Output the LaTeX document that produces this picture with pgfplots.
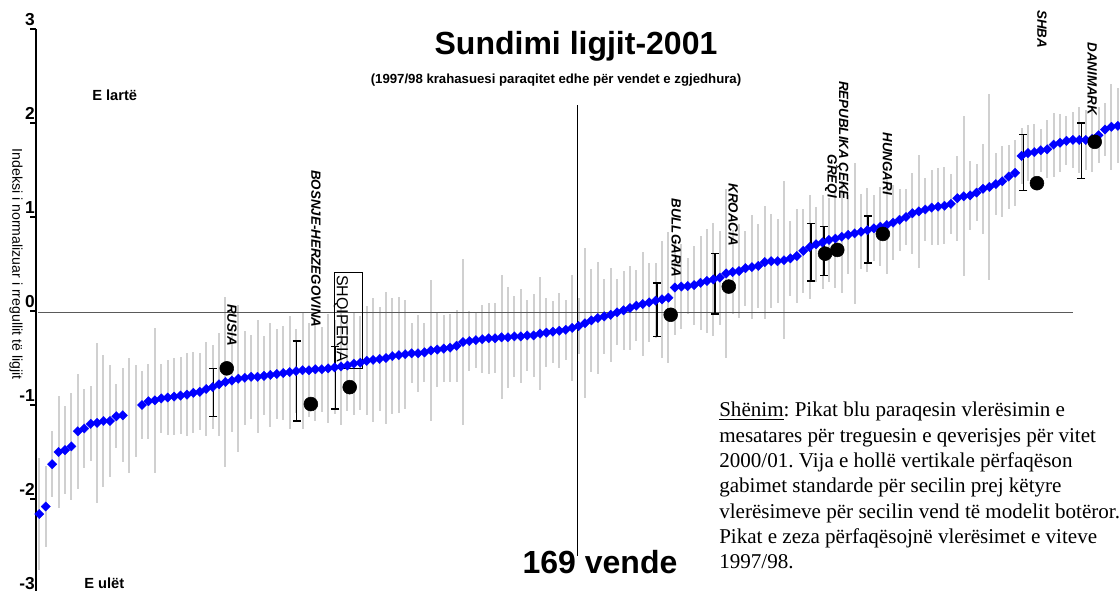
\documentclass[border=0pt]{standalone}
\usepackage{pgfplots}
\usepackage{pgfplotstable}
\pgfplotsset{compat=1.18}
\usepackage{fontspec}
\setmainfont{Liberation Sans}
\newfontfamily\serif{Liberation Serif}
\definecolor{gbar}{RGB}{208,208,208}
\definecolor{zline}{RGB}{90,90,90}
\definecolor{pblue}{RGB}{0,0,255}

\pgfplotstableread{
i c e b
1 -2.16 0.60 -2.16
2 -2.08 0.43 -2.08
3 -1.63 0.35 -1.63
4 -1.50 0.60 -1.50
5 -1.48 0.47 -1.48
6 -1.44 0.57 -1.44
7 -1.28 0.61 -1.28
8 -1.25 0.42 -1.25
9 -1.20 0.40 -1.20
10 -1.19 0.85 -1.19
11 -1.17 0.70 -1.17
12 -1.17 0.60 -1.17
13 -1.12 0.34 -1.12
14 -1.11 0.50 -1.11
15 -1.11 0.61 nan
16 -1.06 0.49 nan
17 -1.00 0.36 -1.00
18 -0.96 0.40 -0.96
19 -0.95 0.77 -0.95
20 -0.93 0.37 -0.93
21 -0.92 0.40 -0.92
22 -0.91 0.41 -0.91
23 -0.90 0.41 -0.90
24 -0.89 0.44 -0.89
25 -0.87 0.43 -0.87
26 -0.86 0.41 -0.86
27 -0.83 0.50 -0.83
28 -0.81 0.45 -0.81
29 -0.78 0.55 -0.78
30 -0.755 0.90 -0.755
31 -0.74 0.55 -0.74
32 -0.72 0.78 -0.72
33 -0.71 0.50 -0.71
34 -0.70 0.45 -0.70
35 -0.70 0.60 -0.70
36 -0.69 0.42 -0.69
37 -0.68 0.55 -0.68
38 -0.67 0.48 -0.67
39 -0.66 0.50 -0.66
40 -0.65 0.60 -0.65
41 -0.64 0.45 -0.64
42 -0.63 0.62 -0.63
43 -0.63 0.50 -0.63
44 -0.62 0.55 -0.62
45 -0.62 0.45 -0.62
46 -0.61 0.58 -0.61
47 -0.60 0.50 -0.60
48 -0.59 0.62 -0.59
49 -0.58 0.48 -0.58
50 -0.56 0.55 -0.56
51 -0.55 0.50 -0.55
52 -0.53 0.58 -0.53
53 -0.52 0.66 -0.52
54 -0.51 0.55 -0.51
55 -0.50 0.70 -0.50
56 -0.48 0.62 -0.48
57 -0.47 0.62 -0.47
58 -0.46 0.58 -0.46
59 -0.45 0.32 -0.45
60 -0.45 0.41 -0.45
61 -0.44 0.31 -0.44
62 -0.42 0.75 -0.42
63 -0.41 0.40 -0.41
64 -0.40 0.36 -0.40
65 -0.39 0.36 -0.39
66 -0.37 0.38 -0.37
67 -0.33 0.88 -0.33
68 -0.32 0.32 -0.32
69 -0.31 0.30 -0.31
70 -0.30 0.36 -0.30
71 -0.29 0.38 -0.29
72 -0.29 0.37 -0.29
73 -0.28 0.66 -0.28
74 -0.28 0.54 -0.28
75 -0.27 0.43 -0.27
76 -0.27 0.50 -0.27
77 -0.26 0.38 -0.26
78 -0.26 0.44 -0.26
79 -0.24 0.60 -0.24
80 -0.23 0.37 -0.23
81 -0.22 0.33 -0.22
82 -0.21 0.40 -0.21
83 -0.20 0.32 -0.20
84 -0.18 0.56 -0.18
85 -0.16 0.30 -0.16
86 -0.13 0.80 -0.13
87 -0.10 0.55 -0.10
88 -0.075 0.60 -0.075
89 -0.057 0.40 -0.057
90 -0.04 0.50 -0.04
91 -0.014 0.35 -0.014
92 0.007 0.42 0.007
93 0.032 0.45 0.032
94 0.057 0.38 0.057
95 0.074 0.55 0.074
96 0.092 0.42 0.092
97 0.11 0.40 0.11
98 0.124 0.62 0.124
99 0.142 0.70 0.142
100 0.25 0.50 0.25
101 0.26 0.45 0.26
102 0.265 0.30 0.265
103 0.276 0.42 0.276
104 0.30 0.50 0.30
105 0.32 0.55 0.32
106 0.336 0.60 0.336
107 0.355 0.50 0.355
108 0.40 0.90 0.40
109 0.415 0.45 0.415
110 0.425 0.50 0.425
111 0.456 0.40 0.456
112 0.467 0.55 0.467
113 0.48 0.45 0.48
114 0.52 0.60 0.52
115 0.53 0.50 0.53
116 0.53 0.45 0.53
117 0.54 0.84 0.54
118 0.56 0.40 0.56
119 0.585 0.50 0.585
120 0.64 0.45 0.64
121 0.68 0.55 0.68
122 0.71 0.40 0.71
123 0.73 0.50 0.73
124 0.756 0.45 0.756
125 0.77 0.52 0.77
126 0.79 0.60 0.79
127 0.81 0.42 0.81
128 0.826 0.75 0.826
129 0.843 0.40 0.843
130 0.86 0.45 0.86
131 0.88 0.35 0.88
132 0.897 0.42 0.897
133 0.915 0.52 0.915
134 0.94 0.40 0.94
135 0.97 0.33 0.97
136 1.00 0.30 1.00
137 1.04 0.43 1.04
138 1.06 0.60 1.06
139 1.08 0.34 1.08
140 1.10 0.40 1.10
141 1.11 0.41 1.11
142 1.12 0.41 1.12
143 1.14 0.32 1.14
144 1.20 0.45 1.20
145 1.22 0.85 1.22
146 1.23 0.37 1.23
147 1.26 0.30 1.26
148 1.30 0.48 1.30
149 1.32 0.99 1.32
150 1.35 0.33 1.35
151 1.38 0.38 1.38
152 1.43 0.34 1.43
153 1.47 0.35 1.47
154 1.65 0.30 1.65
155 1.68 0.30 1.68
156 1.69 0.30 1.69
157 1.71 0.23 1.71
158 1.72 0.31 1.72
159 1.77 0.34 1.77
160 1.79 0.31 1.79
161 1.81 0.26 1.81
162 1.82 0.30 1.82
163 1.82 0.35 1.82
164 1.82 0.32 1.82
165 1.83 0.35 1.83
166 1.87 0.30 1.87
167 1.93 0.28 1.93
168 1.96 0.46 1.96
169 1.97 0.40 1.97
}\bluedata

\pgfplotstableread{
x c e
28.1 -0.865 0.255
41.1 -0.745 0.425
47.1 -0.71 0.33
97.2 0.015 0.285
106.25 0.29 0.32
121.2 0.625 0.305
123.2 0.64 0.26
130.1 0.76 0.25
154.3 1.58 0.30
163.3 1.705 0.295
}\blackbars

\pgfplotstableread{
x y
30.2 -0.61
43.3 -0.99
49.35 -0.81
99.35 -0.04
108.4 0.26
123.4 0.61
125.3 0.65
132.4 0.82
156.4 1.36
165.4 1.80
}\blackdots

\begin{document}
\frenchspacing
\begin{tikzpicture}
\useasboundingbox (0,0) rectangle (840pt,442.5pt);
\begin{axis}[
  at={(27pt,-2.25pt)}, anchor=south west,
  width=813pt, height=423pt, scale only axis,
  xmin=0.486, xmax=169.34, ymin=-3, ymax=3,
  axis x line=none, axis y line*=left,
  axis line style={-, line width=0.9pt},
  ytick={-3,-2,-1,0,1,2,3},
  yticklabels={-3,-2,-1,0,1,2,3},
  tick align=outside, major tick length=4.5pt,
  tick style={line width=0.9pt, black},
  yticklabel style={font=\bfseries\fontsize{13}{13}\selectfont, anchor=base east, inner sep=0pt, yshift=2.8pt, xshift=3.7pt},
  clip=false,
]
\addplot[draw=none, mark=none, forget plot, error bars/.cd, y dir=both, y explicit, error mark=none,
  error bar style={line width=1.5pt, draw=gbar}] table[x=i, y=c, y error=e]{\bluedata};
\draw[zline, line width=1.2pt] (axis cs:0.8,-0.018) -- (axis cs:162,-0.018);
\draw[black, line width=0.8pt] (axis cs:84.83,2.19) -- (axis cs:84.83,-2.61);
\addplot[pblue, only marks, mark=square*, mark size=2.5pt, mark options={rotate=45, draw=pblue, fill=pblue, line width=0.2pt}] table[x=i, y=b]{\bluedata};
\addplot[draw=none, mark=none, forget plot, error bars/.cd, y dir=both, y explicit, error mark=-,
  error mark options={rotate=90, mark size=3pt, line width=1.1pt, draw=black},
  error bar style={line width=1.1pt, draw=black}] table[x=x, y=c, y error=e]{\blackbars};
\addplot[black, only marks, mark=*, mark size=5.2pt, mark options={fill=black, draw=black}] table[x=x, y=y]{\blackdots};

\tikzset{clab/.style={rotate=-90, inner sep=0pt, font=\bfseries\itshape\fontsize{10}{12}\selectfont}}
\node[clab, anchor=west] at (axis cs:31.0,0.074) {RUSIA};
\node[clab, anchor=west] at (axis cs:44.1,1.5) {BOSNJE-HERZEGOVINA};
\node[rotate=-90, inner sep=0pt, anchor=west, font=\fontsize{12}{13}\selectfont] at (axis cs:48.0,0.383) {SHQIPERIA};
\draw[black, line width=0.6pt] (axis cs:46.9,0.415) rectangle (axis cs:51.4,-0.61);
\node[clab, anchor=west] at (axis cs:100.2,1.20) {BULLGARIA};
\node[clab, anchor=west] at (axis cs:109.1,1.36) {KROACIA};
\node[clab, anchor=east] at (axis cs:126.1,1.18) {REPUBLIKA ÇEKE};
\node[clab, anchor=east] at (axis cs:124.3,1.20) {GREQI};
\node[clab, anchor=west] at (axis cs:133.1,1.90) {HUNGARI};
\node[clab, anchor=west] at (axis cs:157.2,3.20) {SHBA};
\node[clab, anchor=west] at (axis cs:165.0,2.86) {DANIMARK};
\end{axis}

\node[font=\bfseries\fontsize{24}{28}\selectfont, anchor=base] at (432pt,401.25pt) {Sundimi ligjit-2001};
\node[font=\bfseries\fontsize{9.9}{12}\selectfont] at (417pt,382.5pt) {(1997/98 krahasuesi paraqitet edhe për vendet e zgjedhura)};
\node[font=\bfseries\fontsize{11}{13}\selectfont, anchor=base west, inner sep=0pt] at (69pt,367pt) {E lartë};
\node[font=\bfseries\fontsize{11}{13}\selectfont, anchor=base west, inner sep=0pt] at (63pt,1.5pt) {E ulët};
\node[font=\bfseries\fontsize{24}{28}\selectfont, anchor=base] at (450pt,12.75pt) {169 vende};
\node[rotate=-90, inner sep=0pt, font=\fontsize{10.6}{12}\selectfont] at (12pt,244.5pt) {Indeksi i normalizuar i rregullit të ligjit};
\node[anchor=north west, inner sep=0pt, align=left, font=\serif\fontsize{15.8}{19}\selectfont] at (539.25pt,141pt) {\underline{Shënim}: Pikat blu paraqesin vlerësimin e\\
mesatares për treguesin e qeverisjes për vitet\\
2000/01. Vija e hollë vertikale përfaqëson\\
gabimet standarde për secilin prej këtyre\\
vlerësimeve për secilin vend të modelit botëror.\\
Pikat e zeza përfaqësojnë vlerësimet e viteve\\
1997/98.};
\end{tikzpicture}
\end{document}
